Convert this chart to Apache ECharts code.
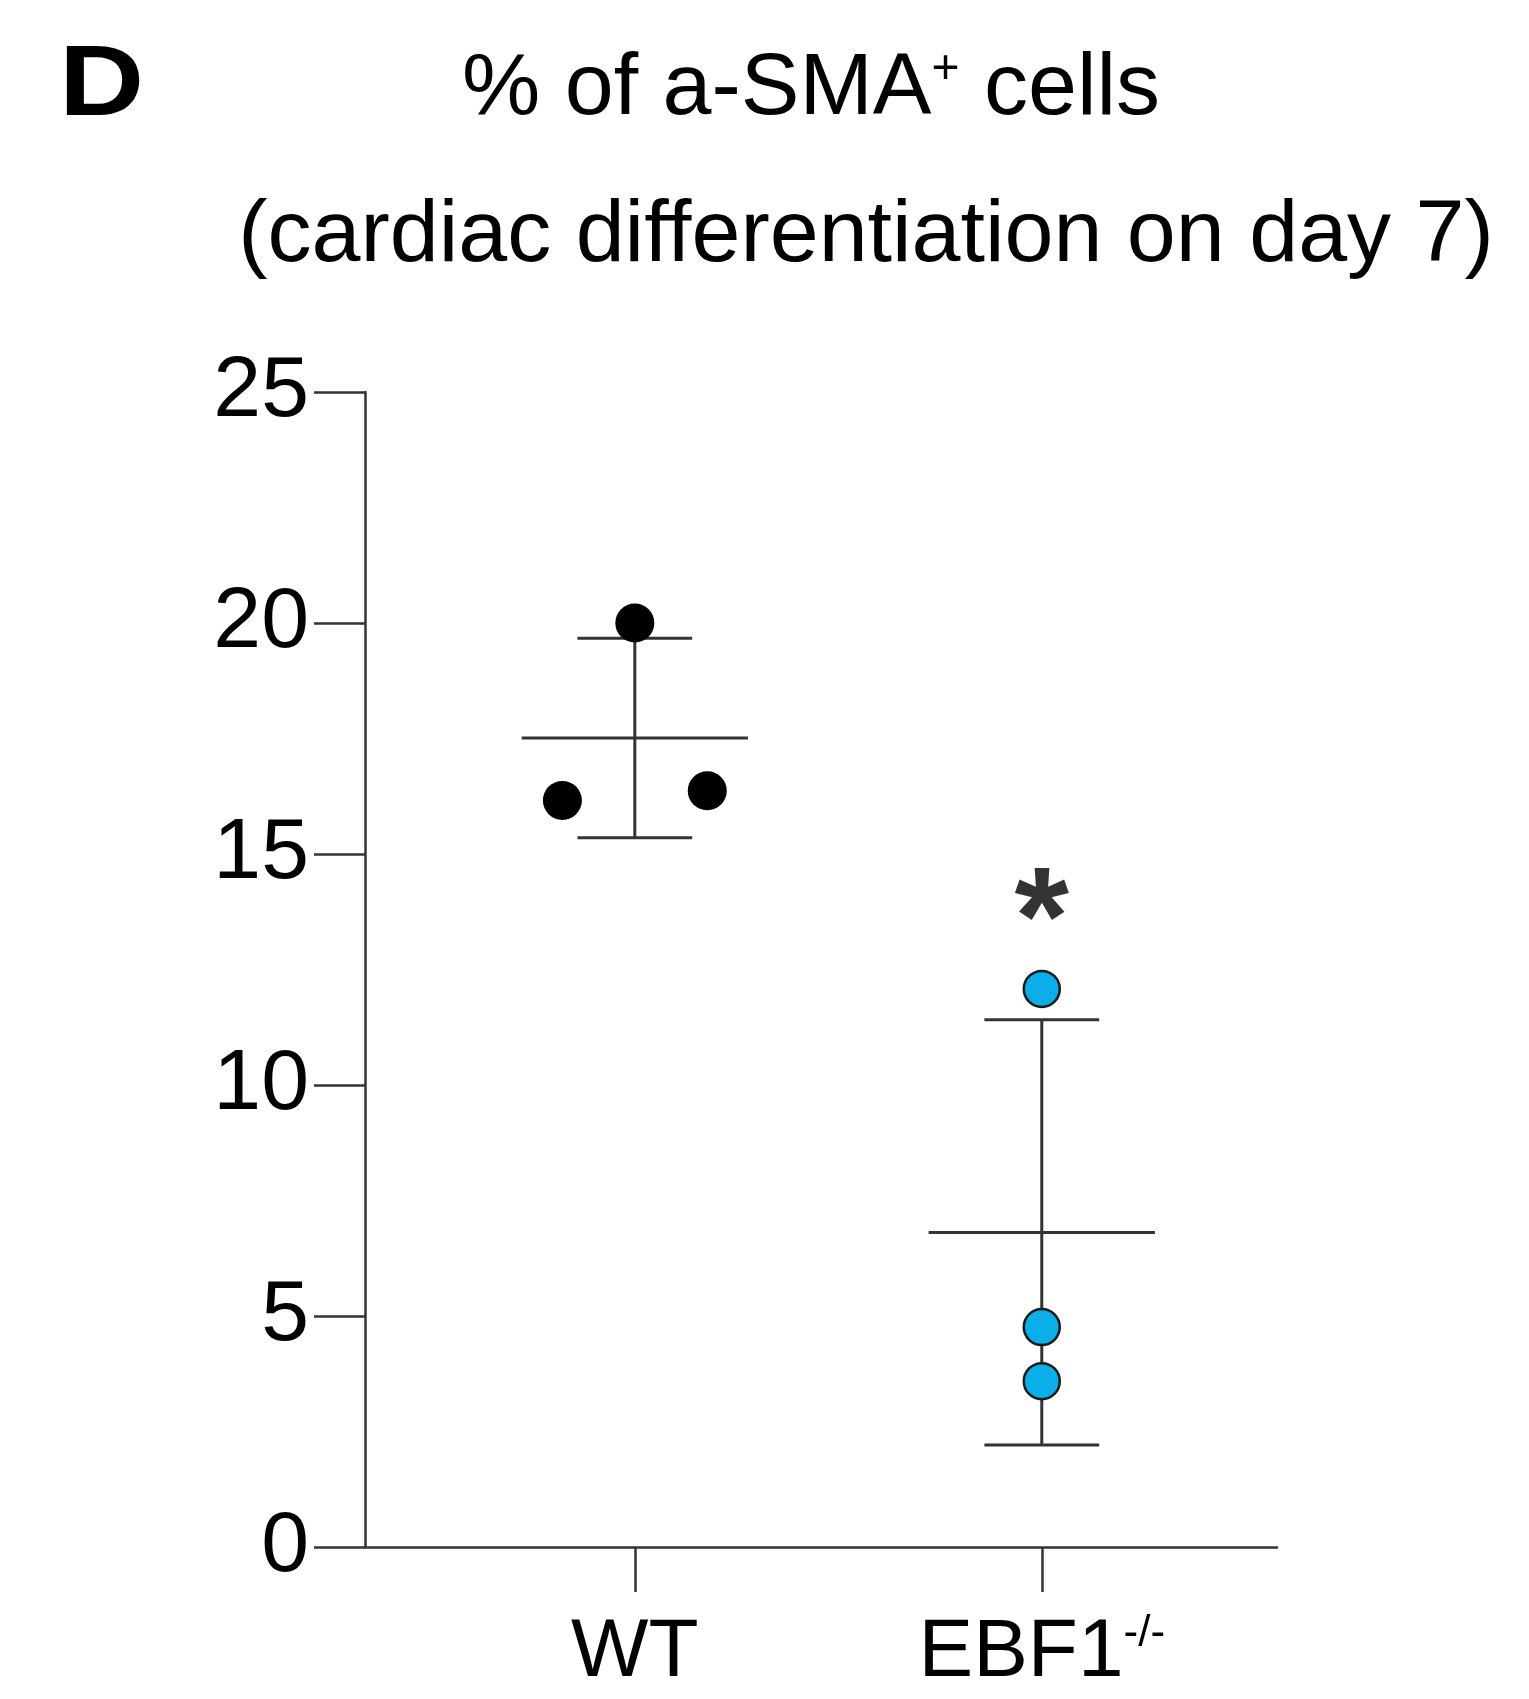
<!DOCTYPE html>
<html>
<head>
<meta charset="utf-8">
<title>% of a-SMA+ cells</title>
<script src="https://cdn.jsdelivr.net/npm/echarts@6/dist/echarts.min.js"></script>
<style>
  html, body { margin: 0; padding: 0; background: #fff; }
  #chart { width: 1529px; height: 1699px; }
</style>
</head>
<body>
<div id="chart"></div>
<script>
// groups on the x axis (value axis, group i sits at x = i + 1)
const categories = ["WT", "EBF1"];
const catPos = [1, 2];
const wtValues = [20.0, 16.16, 16.37];
const koValues = [12.08, 4.76, 3.59];
// horizontal spread of the dots, in x-axis units
const wtJitter = [0, -0.178, 0.178];
const koJitter = [0, 0, 0];
// y ticks
const yTicks = [0, 5, 10, 15, 20, 25];

const FONT = "'Liberation Sans', Arial, sans-serif";
const LINE = "#333";

function mean(a) {
  return a.reduce((s, v) => s + v, 0) / a.length;
}
function sd(a) {
  const m = mean(a);
  return Math.sqrt(a.reduce((s, v) => s + (v - m) * (v - m), 0) / (a.length - 1));
}

const groups = [wtValues, koValues];
const summary = groups.map((g, i) => {
  const m = mean(g), s = sd(g);
  return [catPos[i], m, m - s, m + s];
});

const chart = echarts.init(document.getElementById("chart"));

chart.setOption({
  backgroundColor: "#fff",
  animation: false,
  graphic: [
    {
      type: "text", x: 59, y: 37, scaleX: 1.18,
      style: { text: "D", font: "bold 100px " + FONT, fill: "#000" },
    },
    {
      type: "text", x: 811, y: 134,
      style: {
        text: "% of a-SMA{sup|+} cells",
        font: "88px " + FONT, fill: "#000",
        align: "center", verticalAlign: "bottom",
        rich: { sup: { fontSize: 48, fontFamily: FONT, verticalAlign: "top", padding: [0, 0, 28, 0] } },
      },
    },
    {
      type: "text", x: 866, y: 281,
      style: {
        text: "(cardiac differentiation on day 7)",
        font: "88px " + FONT, fill: "#000",
        align: "center", verticalAlign: "bottom",
      },
    },
  ],
  grid: { left: 365, right: 252, top: 392, bottom: 152, containLabel: false },
  xAxis: {
    type: "value",
    min: 0.337,
    max: 2.578,
    splitLine: { show: false },
    axisLine: { lineStyle: { color: LINE, width: 2.5 } },
    axisTick: { length: 45, customValues: catPos, lineStyle: { color: LINE, width: 2.5 } },
    axisLabel: {
      customValues: catPos,
      margin: 65,
      color: "#000",
      fontSize: 82,
      fontFamily: FONT,
      formatter: (v) => {
        const name = categories[Math.round(v) - 1];
        return name === "EBF1" ? "{n|EBF1}{s|-/-}" : "{n|" + name + "}";
      },
      rich: {
        n: { fontSize: 82, fontFamily: FONT, color: "#000" },
        s: { fontSize: 44, fontFamily: FONT, color: "#000", verticalAlign: "top", padding: [0, 0, 30, 0] },
      },
    },
  },
  yAxis: {
    type: "value",
    min: yTicks[0],
    max: yTicks[yTicks.length - 1],
    interval: yTicks[1] - yTicks[0],
    splitLine: { show: false },
    axisLine: { show: true, lineStyle: { color: LINE, width: 2.5 } },
    axisTick: { show: true, length: 51, lineStyle: { color: LINE, width: 2.5 } },
    axisLabel: { margin: 56, color: "#000", fontSize: 86, fontFamily: FONT },
  },
  series: [
    {
      // mean line and SD whiskers
      type: "custom",
      z: 1,
      data: summary,
      renderItem: (params, api) => {
        const x = api.value(0);
        const m = api.value(1), lo = api.value(2), hi = api.value(3);
        const halfMean = 0.278, halfCap = 0.141;
        const ml = api.coord([x - halfMean, m]), mr = api.coord([x + halfMean, m]);
        const top = api.coord([x, hi]), bot = api.coord([x, lo]);
        const cl = api.coord([x - halfCap, hi]), cr = api.coord([x + halfCap, hi]);
        const bl = api.coord([x - halfCap, lo]), br = api.coord([x + halfCap, lo]);
        const st = { stroke: LINE, lineWidth: 3 };
        return {
          type: "group",
          children: [
            { type: "line", shape: { x1: ml[0], y1: ml[1], x2: mr[0], y2: mr[1] }, style: st },
            { type: "line", shape: { x1: top[0], y1: top[1], x2: bot[0], y2: bot[1] }, style: st },
            { type: "line", shape: { x1: cl[0], y1: cl[1], x2: cr[0], y2: cr[1] }, style: st },
            { type: "line", shape: { x1: bl[0], y1: bl[1], x2: br[0], y2: br[1] }, style: st },
          ],
        };
      },
    },
    {
      type: "scatter",
      z: 3,
      symbolSize: 39,
      itemStyle: { color: "#000", opacity: 1 },
      data: wtValues.map((v, i) => [catPos[0] + wtJitter[i], v]),
    },
    {
      type: "scatter",
      z: 3,
      symbolSize: 36,
      itemStyle: { color: "#0aaee8", borderColor: "#1a1a1a", borderWidth: 2.5, opacity: 1 },
      data: koValues.map((v, i) => [catPos[1] + koJitter[i], v]),
    },
    {
      // significance mark above the knockout group
      type: "scatter",
      z: 4,
      symbolSize: 0,
      data: [[catPos[1], 14.1]],
      label: {
        show: true,
        position: "inside",
        formatter: "*",
        fontSize: 140,
        fontWeight: "bold",
        fontFamily: FONT,
        color: "#000",
        offset: [0, 30],
      },
    },
  ],
});

window.addEventListener("resize", () => chart.resize());
</script>
</body>
</html>
